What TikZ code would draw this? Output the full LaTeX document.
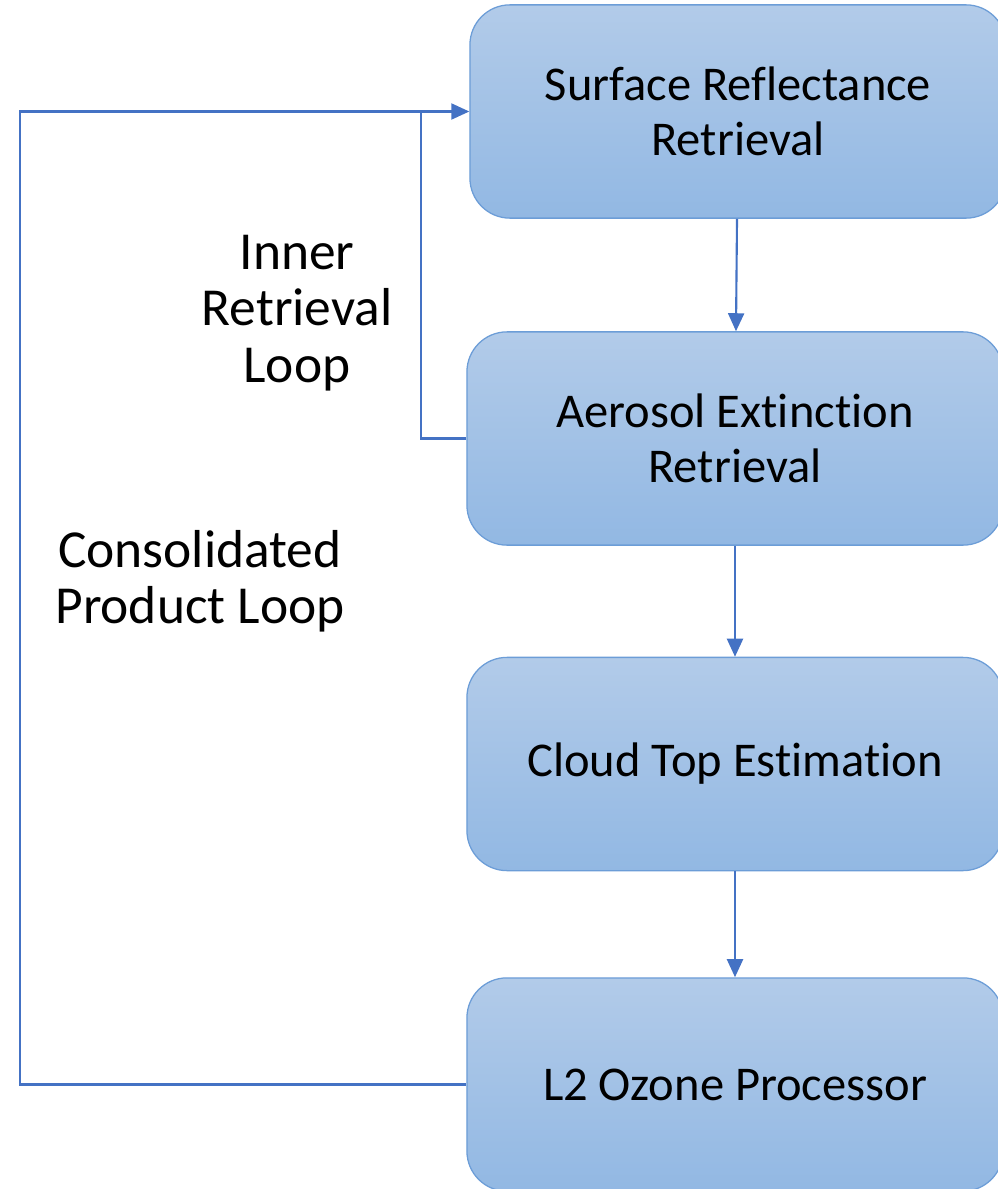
\documentclass[tikz,border=0pt]{standalone}
\usepackage{fontspec}
\setmainfont{Carlito}[Ligatures=NoCommon]
\usetikzlibrary{arrows.meta, positioning, calc}
\definecolor{boxtop}{RGB}{178,203,233}
\definecolor{boxbottom}{RGB}{146,184,227}
\definecolor{boxline}{RGB}{108,157,215}
\definecolor{flowblue}{RGB}{68,114,196}
\begin{document}
\begin{tikzpicture}[x=0.025cm, y=-0.025cm,
			stage/.style={rectangle, draw=boxline, line width=0.9pt, rounded corners=1cm, top color=boxtop, bottom color=boxbottom, minimum width=13.4cm, minimum height=5.33cm, align=center, font=\fontsize{34.5}{39}\selectfont, inner sep=0pt},
			loopnote/.style={align=center, font=\fontsize{38}{40}\selectfont},
			arrow/.style={-{Triangle[length=4.5mm, width=4mm]}, flowblue, line width=1.5pt},
			feedback/.style={flowblue, line width=1.5pt}
		]
		\useasboundingbox (0,0) rectangle (998,1189);
		
		% Processing stages
		\node[stage] (surface) at (738,111.5) {Surface Reflectance\\Retrieval};
		\node[stage] (aerosol) at (735,438.5) {Aerosol Extinction\\Retrieval};
		\node[stage] (cloud) at (735,764) {Cloud Top Estimation};
		\node[stage] (ozone) at (735,1084.5) {L2 Ozone Processor};
		
		% Loop labels
		\node[loopnote] (innerlabel) at (297,313) {Inner\\Retrieval\\Loop};
		\node[loopnote] (outerlabel) at (200,581) {Consolidated\\Product Loop};
		
		% Loop corners
		\coordinate (innerleft) at (421,0);
		\coordinate (outerleft) at (20,0);
		
		% Forward flow
		\draw[arrow] (surface) -- (aerosol);
		\draw[arrow] (aerosol) -- (cloud);
		\draw[arrow] (cloud) -- (ozone);
		
		% Feedback loops
		\draw[arrow] (ozone.west) -- (ozone.west -| outerleft) |- (surface.west);
		\draw[feedback] (aerosol.west) -| (innerleft |- surface.west);
		\end{tikzpicture}
\end{document}
